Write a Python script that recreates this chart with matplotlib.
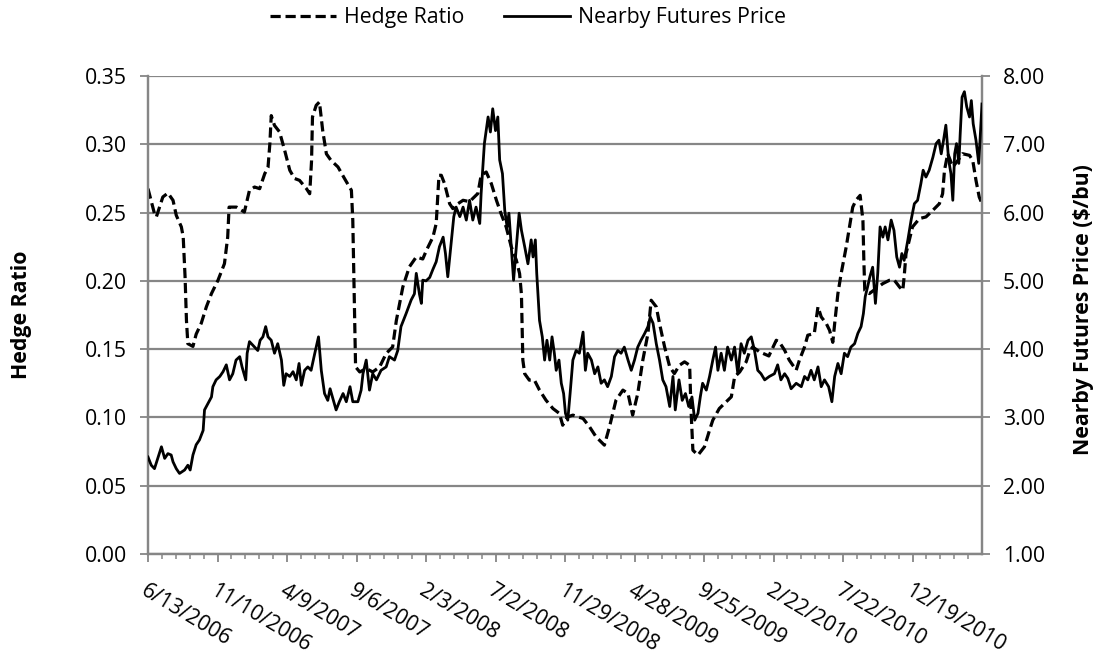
import numpy as np
import pandas as pd
import matplotlib
matplotlib.use("Agg")
import matplotlib.pyplot as plt
from matplotlib.lines import Line2D

plt.rcParams['font.family'] = ['Open Sans', 'DejaVu Sans']

# ---------------- data ----------------
start_date = "2006-06-13"

hedge_days = [0, 14, 18, 32, 43, 54, 61, 72, 76, 80, 83, 86, 97, 104, 115, 126, 137, 151, 165, 172,
              175, 191, 208, 219, 230, 241, 252, 259, 263, 266, 273, 284, 295, 306, 316, 327, 342, 349, 353, 355,
              363, 370, 377, 385, 395, 410, 424, 439, 442, 445, 448, 457, 471, 485, 500, 514, 528, 536, 550, 564,
              579, 593, 601, 615, 622, 628, 633, 640, 651, 658, 669, 680, 694, 712, 719, 730, 741, 752, 762, 773,
              784, 795, 802, 806, 809, 813, 823, 834, 845, 859, 874, 888, 895, 906, 917, 939, 953, 967, 985, 996,
              1010, 1025, 1036, 1046, 1057, 1068, 1079, 1086, 1097, 1104, 1115, 1126, 1136, 1147, 1158, 1169, 1172, 1176, 1187, 1201,
              1212, 1219, 1233, 1248, 1259, 1266, 1277, 1291, 1298, 1305, 1320, 1340, 1356, 1363, 1374, 1384, 1399, 1406, 1417, 1424,
              1438, 1446, 1453, 1464, 1471, 1478, 1482, 1489, 1496, 1507, 1514, 1521, 1528, 1537, 1543, 1545, 1547, 1557, 1571, 1586,
              1600, 1611, 1622, 1629, 1632, 1636, 1643, 1650, 1665, 1679, 1694, 1708, 1715, 1719, 1726, 1737, 1748, 1758, 1773, 1780,
              1787, 1794, 1800]
hedge_ratio = [0.2675, 0.2492, 0.2468, 0.2614, 0.2643, 0.2590, 0.2480, 0.2395, 0.2321, 0.2030, 0.1710, 0.1540, 0.1520, 0.1610, 0.1690, 0.1810, 0.1907, 0.2004, 0.2126, 0.2320,
               0.2540, 0.2540, 0.2504, 0.2663, 0.2687, 0.2675, 0.2785, 0.2830, 0.3004, 0.3210, 0.3138, 0.3090, 0.2955, 0.2810, 0.2750, 0.2736, 0.2675, 0.2638, 0.2880, 0.3200,
               0.3285, 0.3310, 0.3102, 0.2930, 0.2882, 0.2834, 0.2750, 0.2663, 0.2443, 0.1900, 0.1370, 0.1333, 0.1358, 0.1333, 0.1370, 0.1468, 0.1516, 0.1710, 0.1955, 0.2102,
               0.2175, 0.2160, 0.2224, 0.2321, 0.2419, 0.2773, 0.2773, 0.2712, 0.2565, 0.2529, 0.2565, 0.2590, 0.2580, 0.2640, 0.2773, 0.2797, 0.2712, 0.2590, 0.2492, 0.2395,
               0.2250, 0.2151, 0.2053, 0.1900, 0.1420, 0.1320, 0.1273, 0.1273, 0.1200, 0.1126, 0.1065, 0.1029, 0.0943, 0.1004, 0.1017, 0.0992, 0.0931, 0.0858, 0.0797, 0.0931,
               0.1126, 0.1200, 0.1175, 0.1017, 0.1175, 0.1420, 0.1614, 0.1858, 0.1810, 0.1687, 0.1516, 0.1370, 0.1321, 0.1382, 0.1407, 0.1382, 0.1053, 0.0760, 0.0724, 0.0785,
               0.0907, 0.0980, 0.1065, 0.1114, 0.1151, 0.1297, 0.1333, 0.1407, 0.1480, 0.1516, 0.1480, 0.1450, 0.1565, 0.1550, 0.1492, 0.1420, 0.1346, 0.1420, 0.1516, 0.1602,
               0.1614, 0.1810, 0.1736, 0.1687, 0.1638, 0.1550, 0.1687, 0.1907, 0.2053, 0.2250, 0.2395, 0.2540, 0.2590, 0.2626, 0.2443, 0.2150, 0.1930, 0.1907, 0.1943, 0.1980,
               0.2004, 0.2004, 0.1955, 0.1930, 0.2030, 0.2199, 0.2297, 0.2395, 0.2456, 0.2468, 0.2517, 0.2565, 0.2638, 0.2809, 0.2931, 0.2834, 0.2882, 0.2931, 0.2919, 0.2882,
               0.2736, 0.2614, 0.2565]

price_days = [0, 7, 14, 22, 29, 36, 43, 50, 54, 61, 68, 79, 86, 91, 97, 104, 111, 119, 122, 129,
              137, 140, 147, 155, 162, 169, 176, 183, 190, 198, 203, 211, 214, 219, 226, 237, 242, 248, 254, 259,
              266, 273, 280, 288, 293, 298, 306, 313, 320, 326, 331, 338, 345, 352, 360, 368, 374, 381, 388, 393,
              400, 406, 413, 421, 428, 436, 442, 453, 460, 464, 471, 478, 485, 493, 503, 514, 521, 532, 539, 546,
              557, 568, 575, 579, 586, 590, 593, 600, 608, 615, 622, 629, 637, 642, 647, 655, 660, 665, 673, 680,
              687, 694, 701, 708, 716, 719, 726, 734, 739, 744, 750, 755, 759, 765, 770, 775, 779, 784, 789, 795,
              801, 806, 813, 820, 827, 831, 836, 839, 845, 851, 856, 861, 867, 872, 877, 881, 887, 892, 897, 901,
              906, 911, 917, 924, 931, 939, 944, 949, 957, 964, 971, 978, 985, 992, 1000, 1007, 1014, 1021, 1028, 1036,
              1043, 1050, 1057, 1064, 1072, 1079, 1084, 1090, 1097, 1104, 1111, 1118, 1126, 1133, 1138, 1146, 1153, 1160, 1167, 1174,
              1180, 1187, 1192, 1197, 1205, 1212, 1219, 1225, 1230, 1237, 1244, 1251, 1259, 1266, 1273, 1280, 1287, 1295, 1302, 1309,
              1316, 1323, 1331, 1341, 1352, 1359, 1366, 1374, 1381, 1388, 1399, 1410, 1417, 1424, 1431, 1438, 1446, 1453, 1460, 1469,
              1476, 1482, 1489, 1496, 1503, 1510, 1517, 1525, 1532, 1539, 1544, 1548, 1553, 1558, 1564, 1570, 1575, 1580, 1586, 1591,
              1597, 1604, 1610, 1616, 1622, 1627, 1632, 1640, 1647, 1654, 1661, 1668, 1673, 1679, 1686, 1694, 1701, 1707, 1712, 1717,
              1722, 1728, 1733, 1737, 1741, 1745, 1750, 1753, 1757, 1762, 1767, 1773, 1777, 1781, 1787, 1793, 1798, 1800]
futures_price = [2.42, 2.30, 2.25, 2.42, 2.57, 2.40, 2.47, 2.45, 2.35, 2.25, 2.18, 2.23, 2.30, 2.23, 2.45, 2.60, 2.67, 2.81, 3.11, 3.20,
                 3.30, 3.45, 3.55, 3.60, 3.67, 3.77, 3.55, 3.64, 3.84, 3.89, 3.74, 3.55, 3.94, 4.11, 4.06, 3.98, 4.13, 4.18, 4.33, 4.18,
                 4.13, 3.94, 4.08, 3.84, 3.47, 3.64, 3.60, 3.67, 3.55, 3.79, 3.47, 3.69, 3.74, 3.69, 3.94, 4.18, 3.69, 3.35, 3.25, 3.42,
                 3.25, 3.11, 3.23, 3.35, 3.23, 3.45, 3.23, 3.23, 3.40, 3.64, 3.84, 3.40, 3.64, 3.55, 3.69, 3.74, 3.89, 3.84, 3.98, 4.33,
                 4.52, 4.72, 4.81, 5.11, 4.80, 4.67, 5.01, 5.00, 5.05, 5.17, 5.28, 5.50, 5.64, 5.40, 5.06, 5.60, 5.94, 6.08, 5.94, 6.08,
                 5.89, 6.18, 5.89, 6.08, 5.84, 6.28, 7.01, 7.40, 7.18, 7.52, 7.20, 7.40, 6.77, 6.57, 6.03, 5.79, 5.99, 5.50, 5.01, 5.50,
                 5.99, 5.74, 5.50, 5.25, 5.60, 5.35, 5.60, 5.11, 4.42, 4.18, 3.84, 4.13, 3.84, 4.18, 3.94, 3.69, 3.84, 3.50, 3.35, 3.06,
                 2.96, 3.35, 3.84, 3.98, 3.94, 4.25, 3.69, 3.94, 3.84, 3.64, 3.74, 3.50, 3.55, 3.45, 3.60, 3.89, 3.98, 3.94, 4.03, 3.84,
                 3.69, 3.84, 4.03, 4.13, 4.23, 4.33, 4.47, 4.38, 4.08, 3.84, 3.55, 3.45, 3.16, 3.60, 3.11, 3.55, 3.25, 3.35, 3.16, 3.30,
                 2.96, 3.06, 3.30, 3.50, 3.40, 3.60, 3.84, 4.03, 3.69, 3.94, 3.69, 4.03, 3.84, 4.03, 3.64, 4.08, 3.94, 4.13, 4.18, 3.98,
                 3.69, 3.64, 3.55, 3.60, 3.64, 3.77, 3.55, 3.64, 3.57, 3.42, 3.50, 3.45, 3.60, 3.55, 3.69, 3.55, 3.74, 3.45, 3.55, 3.45,
                 3.23, 3.60, 3.79, 3.64, 3.94, 3.89, 4.03, 4.08, 4.23, 4.33, 4.52, 4.77, 4.91, 5.06, 5.20, 4.67, 5.11, 5.79, 5.64, 5.79,
                 5.60, 5.89, 5.74, 5.35, 5.20, 5.40, 5.30, 5.60, 5.89, 6.13, 6.18, 6.42, 6.62, 6.52, 6.62, 6.81, 7.01, 7.06, 6.86, 7.06,
                 7.28, 6.77, 6.57, 6.18, 6.86, 7.01, 6.72, 7.16, 7.69, 7.77, 7.55, 7.40, 7.64, 7.30, 7.06, 6.72, 7.35, 7.59]

hedge_ticks = [0.00, 0.05, 0.10, 0.15, 0.20, 0.25, 0.30, 0.35]
price_ticks = [1.00, 2.00, 3.00, 4.00, 5.00, 6.00, 7.00, 8.00]
label_step_days = 150
minor_step_days = 30
end_day = 1800

# ---------------- figure ----------------
base = pd.Timestamp(start_date)
hx = base + pd.to_timedelta(hedge_days, unit="D")
px = base + pd.to_timedelta(price_days, unit="D")

W, H = 1096, 660
fig = plt.figure(figsize=(W / 100, H / 100), dpi=100)
L, R, T, B = 148, 982, 76, 554
ax = fig.add_axes([L / W, 1 - B / H, (R - L) / W, (B - T) / H])
ax2 = ax.twinx()

GRID = "#868686"
FS = 15.3

ax.plot(hx, hedge_ratio, color="black", lw=2.3, linestyle=(0, (3.2, 1.5)),
        dash_capstyle="butt", label="Hedge Ratio", zorder=3)
ax2.plot(px, futures_price, color="black", lw=2.0, solid_joinstyle="round",
         label="Nearby Futures Price", zorder=3)

ax.set_ylim(0, 0.35)
ax2.set_ylim(1, 8)
ax.set_yticks(hedge_ticks)
ax.set_yticklabels([f"{v:.2f}" for v in hedge_ticks])
ax2.set_yticks(price_ticks)
ax2.set_yticklabels([f"{v:.2f}" for v in price_ticks])

ax.set_xlim(base, base + pd.Timedelta(days=end_day))
major = [base + pd.Timedelta(days=d) for d in range(0, end_day, label_step_days)]
minor = [base + pd.Timedelta(days=d) for d in range(0, end_day, minor_step_days)]
ax.set_xticks(major)
ax.set_xticklabels([f"{d.month}/{d.day}/{d.year}" for d in major])
ax.set_xticks(minor, minor=True)

ax.grid(axis="y", color=GRID, lw=1.6, zorder=0)
ax.set_axisbelow(True)
for a in (ax, ax2):
    a.spines["top"].set_visible(False)
    for s in ("left", "right", "bottom"):
        a.spines[s].set_color(GRID)
        a.spines[s].set_linewidth(1.6)
ax.tick_params(axis="y", direction="out", length=6, width=1.3, color=GRID, labelsize=FS, pad=9)
ax2.tick_params(axis="y", direction="out", length=6, width=1.3, color=GRID, labelsize=FS, pad=9)
ax.tick_params(axis="x", which="major", direction="out", length=6, width=1.3, color=GRID, labelsize=FS, pad=13)
ax.tick_params(axis="x", which="minor", direction="out", length=3.5, width=1.1, color=GRID)
for lab in ax.get_xticklabels():
    lab.set_rotation(-31)
    lab.set_rotation_mode("anchor")
    lab.set_ha("left")
    lab.set_va("top")

fig.text(22 / W, 1 - 315 / H, "Hedge Ratio", rotation=90, ha="center", va="center",
         fontsize=FS, fontweight="bold")
fig.text(1083 / W, 1 - 310 / H, "Nearby Futures Price ($/bu)", rotation=90, ha="center", va="center",
         fontsize=FS, fontweight="bold")

handles = [Line2D([], [], color="black", lw=2.3, linestyle=(0, (3.2, 1.5))),
           Line2D([], [], color="black", lw=2.0)]
fig.legend(handles, ["Hedge Ratio", "Nearby Futures Price"], loc="center", ncol=2,
           bbox_to_anchor=(528 / W, 1 - 18 / H), frameon=False, fontsize=FS,
           handlelength=3.1, handletextpad=0.35, columnspacing=1.9)

fig.savefig("out.png", dpi=100)
